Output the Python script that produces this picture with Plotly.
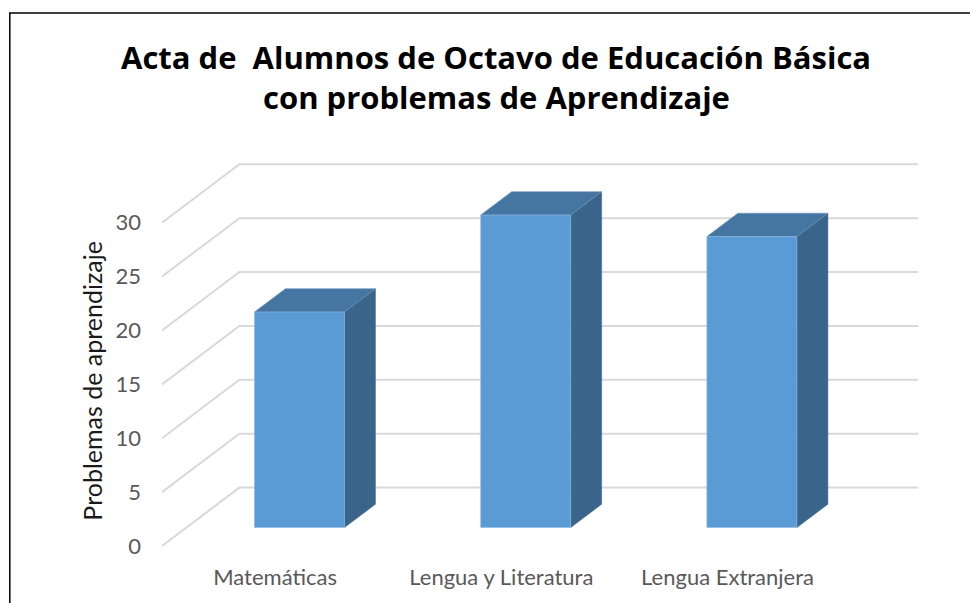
import plotly.graph_objects as go

# ---- data ----
categories = ["Matemáticas", "Lengua y Literatura", "Lengua Extranjera"]
values = [20, 29, 27]
y_ticks = [0, 5, 10, 15, 20, 25, 30]
title_lines = ["Acta de\u00a0 Alumnos de Octavo de Educación Básica", "con problemas de Aprendizaje"]
y_title = "Problemas de aprendizaje"

# ---- pseudo-3D geometry (in axis units) ----
DX, DY = 0.342, 5.42      # full floor depth vector
T0 = 0.315                # depth of bar front face
BD = 0.40                 # bar depth (fraction of floor depth)
BW = 0.398                # bar width (category units)

FRONT = "#5B9BD5"
TOP = "#4575A1"
SIDE = "#3A6489"
GRID = "#d9d9d9"

n = len(categories)
fig = go.Figure()

# gridlines: left wall diagonal + back wall horizontal
for v in y_ticks:
    fig.add_trace(go.Scatter(
        x=[-0.5, -0.5 + DX, n - 0.5 + DX],
        y=[v, v + DY, v + DY],
        mode="lines", line=dict(color=GRID, width=2),
        hoverinfo="skip", showlegend=False))

# bars
for i, v in enumerate(values):
    xl = i - BW / 2 + T0 * DX
    xr = i + BW / 2 + T0 * DX
    yb = T0 * DY
    yt = v + yb
    ddx, ddy = BD * DX, BD * DY
    # side face
    fig.add_trace(go.Scatter(
        x=[xr, xr + ddx, xr + ddx, xr, xr],
        y=[yb, yb + ddy, yt + ddy, yt, yb],
        mode="lines", fill="toself", fillcolor=SIDE,
        line=dict(color=SIDE, width=0.5),
        hoverinfo="skip", showlegend=False))
    # top face
    fig.add_trace(go.Scatter(
        x=[xl, xr, xr + ddx, xl + ddx, xl],
        y=[yt, yt, yt + ddy, yt + ddy, yt],
        mode="lines", fill="toself", fillcolor=TOP,
        line=dict(color="#6a93bd", width=0.6),
        hoverinfo="skip", showlegend=False))
    # front face
    fig.add_trace(go.Scatter(
        x=[xl, xr, xr, xl, xl],
        y=[yb, yb, yt, yt, yb],
        mode="lines", fill="toself", fillcolor=FRONT,
        line=dict(color="#8db8e3", width=0.6),
        hoverinfo="skip", showlegend=False))

W, H = 970, 603
ML, MR, MT, MB = 161.7, 52.3, 157.6, 57.3
pw = W - ML - MR
ph = H - MT - MB

def px_x(p):
    return (p - ML) / pw

def px_y(p):
    return (H - MB - p) / ph

annotations = [
    dict(text="<b>" + title_lines[0] + "</b>", x=px_x(496), y=px_y(68.3), xref="paper", yref="paper",
         xanchor="center", yanchor="bottom", showarrow=False,
         font=dict(family="Open Sans", size=31, color="#000000"), yshift=-11),
    dict(text="<b>" + title_lines[1] + "</b>", x=px_x(496), y=px_y(108.3), xref="paper", yref="paper",
         xanchor="center", yanchor="bottom", showarrow=False,
         font=dict(family="Open Sans", size=31, color="#000000"), yshift=-11),
    dict(text=y_title, x=px_x(92), y=px_y(380), xref="paper", yref="paper",
         xanchor="center", yanchor="middle", textangle=-90, showarrow=False,
         font=dict(family="Lato", size=25, color="#1a1a1a")),
]

fig.update_layout(
    width=W, height=H,
    margin=dict(l=ML, r=MR, t=MT, b=MB, pad=0),
    paper_bgcolor="white", plot_bgcolor="white",
    annotations=annotations,
    shapes=[dict(type="rect", xref="paper", yref="paper",
                 x0=px_x(9.5), x1=px_x(990), y0=px_y(12.5), y1=px_y(640),
                 line=dict(color="black", width=1.5), layer="above")],
    xaxis=dict(range=[-0.5, n - 0.5 + DX], tickmode="array",
               tickvals=list(range(n)), ticktext=categories,
               showgrid=False, zeroline=False, showline=False,
               ticks="", ticklabelstandoff=16,
               tickfont=dict(family="Lato", size=22, color="#595959"),
               fixedrange=True),
    yaxis=dict(range=[0, 36], tickmode="array", tickvals=y_ticks,
               ticktext=[str(t) for t in y_ticks],
               showgrid=False, zeroline=False, showline=False,
               ticks="", ticklabelstandoff=20,
               tickfont=dict(family="Lato", size=22, color="#595959"),
               fixedrange=True),
)

fig.write_html("out.html", config={"displayModeBar": False},
               post_script="document.body.style.margin='0';document.body.style.overflow='hidden';")
